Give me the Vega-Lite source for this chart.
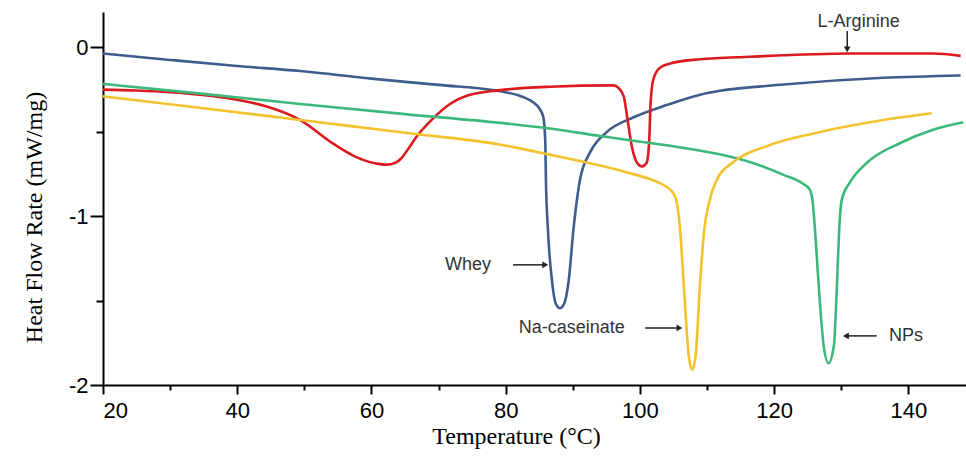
{
  "$schema": "https://vega.github.io/schema/vega-lite/v6.json",
  "width": 863,
  "height": 373,
  "autosize": "none",
  "padding": {"left": 103, "top": 12, "right": 0, "bottom": 72},
  "background": "white",
  "config": {"view": {"stroke": null}},
  "datasets": {
    "curves": [
      {"series": "Whey", "t": 20, "v": -0.036},
      {"series": "Whey", "t": 30, "v": -0.074},
      {"series": "Whey", "t": 40, "v": -0.110},
      {"series": "Whey", "t": 49.4, "v": -0.14},
      {"series": "Whey", "t": 60, "v": -0.185},
      {"series": "Whey", "t": 70, "v": -0.222},
      {"series": "Whey", "t": 79.2, "v": -0.26},
      {"series": "Whey", "t": 82, "v": -0.285},
      {"series": "Whey", "t": 84.1, "v": -0.325},
      {"series": "Whey", "t": 85.0, "v": -0.36},
      {"series": "Whey", "t": 85.6, "v": -0.41},
      {"series": "Whey", "t": 85.9, "v": -0.55},
      {"series": "Whey", "t": 86.0, "v": -0.78},
      {"series": "Whey", "t": 86.3, "v": -1.08},
      {"series": "Whey", "t": 86.9, "v": -1.38},
      {"series": "Whey", "t": 87.5, "v": -1.52},
      {"series": "Whey", "t": 88.1, "v": -1.545},
      {"series": "Whey", "t": 88.7, "v": -1.52},
      {"series": "Whey", "t": 89.4, "v": -1.38},
      {"series": "Whey", "t": 90.1, "v": -1.08},
      {"series": "Whey", "t": 91.1, "v": -0.78},
      {"series": "Whey", "t": 92.6, "v": -0.62},
      {"series": "Whey", "t": 95.1, "v": -0.50},
      {"series": "Whey", "t": 99.0, "v": -0.415},
      {"series": "Whey", "t": 104.1, "v": -0.34},
      {"series": "Whey", "t": 109.0, "v": -0.28},
      {"series": "Whey", "t": 111.5, "v": -0.26},
      {"series": "Whey", "t": 121.4, "v": -0.22},
      {"series": "Whey", "t": 136.3, "v": -0.18},
      {"series": "Whey", "t": 147.8, "v": -0.166},

      {"series": "L-Arginine", "t": 20, "v": -0.25},
      {"series": "L-Arginine", "t": 25, "v": -0.255},
      {"series": "L-Arginine", "t": 30, "v": -0.265},
      {"series": "L-Arginine", "t": 34.5, "v": -0.28},
      {"series": "L-Arginine", "t": 40, "v": -0.31},
      {"series": "L-Arginine", "t": 44.4, "v": -0.35},
      {"series": "L-Arginine", "t": 49.4, "v": -0.43},
      {"series": "L-Arginine", "t": 54.3, "v": -0.57},
      {"series": "L-Arginine", "t": 57.5, "v": -0.645},
      {"series": "L-Arginine", "t": 59.4, "v": -0.675},
      {"series": "L-Arginine", "t": 61.0, "v": -0.69},
      {"series": "L-Arginine", "t": 62.3, "v": -0.695},
      {"series": "L-Arginine", "t": 63.5, "v": -0.685},
      {"series": "L-Arginine", "t": 64.5, "v": -0.655},
      {"series": "L-Arginine", "t": 65.5, "v": -0.60},
      {"series": "L-Arginine", "t": 66.8, "v": -0.525},
      {"series": "L-Arginine", "t": 69.2, "v": -0.42},
      {"series": "L-Arginine", "t": 71.7, "v": -0.335},
      {"series": "L-Arginine", "t": 74.3, "v": -0.285},
      {"series": "L-Arginine", "t": 79.2, "v": -0.253},
      {"series": "L-Arginine", "t": 86.6, "v": -0.233},
      {"series": "L-Arginine", "t": 96.1, "v": -0.225},
      {"series": "L-Arginine", "t": 96.8, "v": -0.24},
      {"series": "L-Arginine", "t": 97.6, "v": -0.29},
      {"series": "L-Arginine", "t": 98.1, "v": -0.41},
      {"series": "L-Arginine", "t": 98.8, "v": -0.585},
      {"series": "L-Arginine", "t": 99.6, "v": -0.685},
      {"series": "L-Arginine", "t": 100.3, "v": -0.705},
      {"series": "L-Arginine", "t": 101.0, "v": -0.685},
      {"series": "L-Arginine", "t": 101.4, "v": -0.546},
      {"series": "L-Arginine", "t": 101.6, "v": -0.33},
      {"series": "L-Arginine", "t": 102.0, "v": -0.19},
      {"series": "L-Arginine", "t": 103.0, "v": -0.12},
      {"series": "L-Arginine", "t": 105.0, "v": -0.09},
      {"series": "L-Arginine", "t": 109.0, "v": -0.07},
      {"series": "L-Arginine", "t": 116.5, "v": -0.055},
      {"series": "L-Arginine", "t": 131.4, "v": -0.036},
      {"series": "L-Arginine", "t": 143.7, "v": -0.036},
      {"series": "L-Arginine", "t": 147.8, "v": -0.05},

      {"series": "NPs", "t": 20, "v": -0.216},
      {"series": "NPs", "t": 35, "v": -0.275},
      {"series": "NPs", "t": 49.4, "v": -0.335},
      {"series": "NPs", "t": 65, "v": -0.395},
      {"series": "NPs", "t": 79.2, "v": -0.447},
      {"series": "NPs", "t": 86.6, "v": -0.48},
      {"series": "NPs", "t": 94.1, "v": -0.525},
      {"series": "NPs", "t": 101.5, "v": -0.566},
      {"series": "NPs", "t": 106.5, "v": -0.595},
      {"series": "NPs", "t": 111.5, "v": -0.63},
      {"series": "NPs", "t": 116.5, "v": -0.68},
      {"series": "NPs", "t": 121.4, "v": -0.755},
      {"series": "NPs", "t": 124.2, "v": -0.805},
      {"series": "NPs", "t": 125.3, "v": -0.84},
      {"series": "NPs", "t": 125.7, "v": -0.9},
      {"series": "NPs", "t": 126.1, "v": -1.08},
      {"series": "NPs", "t": 126.6, "v": -1.38},
      {"series": "NPs", "t": 127.4, "v": -1.77},
      {"series": "NPs", "t": 128.1, "v": -1.871},
      {"series": "NPs", "t": 128.9, "v": -1.77},
      {"series": "NPs", "t": 129.4, "v": -1.38},
      {"series": "NPs", "t": 129.7, "v": -1.08},
      {"series": "NPs", "t": 130.1, "v": -0.90},
      {"series": "NPs", "t": 131.3, "v": -0.80},
      {"series": "NPs", "t": 133.8, "v": -0.685},
      {"series": "NPs", "t": 138.8, "v": -0.566},
      {"series": "NPs", "t": 143.7, "v": -0.487},
      {"series": "NPs", "t": 148.2, "v": -0.443},

      {"series": "Na-caseinate", "t": 20, "v": -0.29},
      {"series": "Na-caseinate", "t": 35, "v": -0.36},
      {"series": "Na-caseinate", "t": 49.4, "v": -0.43},
      {"series": "Na-caseinate", "t": 65, "v": -0.505},
      {"series": "Na-caseinate", "t": 79.2, "v": -0.576},
      {"series": "Na-caseinate", "t": 86.6, "v": -0.635},
      {"series": "Na-caseinate", "t": 94.1, "v": -0.70},
      {"series": "Na-caseinate", "t": 98.5, "v": -0.745},
      {"series": "Na-caseinate", "t": 101.5, "v": -0.78},
      {"series": "Na-caseinate", "t": 103.5, "v": -0.815},
      {"series": "Na-caseinate", "t": 104.7, "v": -0.85},
      {"series": "Na-caseinate", "t": 105.4, "v": -0.9},
      {"series": "Na-caseinate", "t": 106.0, "v": -1.08},
      {"series": "Na-caseinate", "t": 106.5, "v": -1.38},
      {"series": "Na-caseinate", "t": 107.3, "v": -1.83},
      {"series": "Na-caseinate", "t": 107.8, "v": -1.91},
      {"series": "Na-caseinate", "t": 108.3, "v": -1.83},
      {"series": "Na-caseinate", "t": 109.0, "v": -1.38},
      {"series": "Na-caseinate", "t": 109.6, "v": -1.08},
      {"series": "Na-caseinate", "t": 110.3, "v": -0.92},
      {"series": "Na-caseinate", "t": 111.5, "v": -0.78},
      {"series": "Na-caseinate", "t": 113.9, "v": -0.68},
      {"series": "Na-caseinate", "t": 118.9, "v": -0.585},
      {"series": "Na-caseinate", "t": 126.4, "v": -0.505},
      {"series": "Na-caseinate", "t": 136.3, "v": -0.43},
      {"series": "Na-caseinate", "t": 143.5, "v": -0.39}
    ],
    "labels": [
      {"label": "Whey", "t": 74.4, "v": -1.288},
      {"label": "Na-caseinate", "t": 89.85, "v": -1.662},
      {"label": "NPs", "t": 139.65, "v": -1.709},
      {"label": "L-Arginine", "t": 132.6, "v": 0.148}
    ],
    "arrows": [
      {"t": 81.1, "t2": 85.8, "v": -1.288, "v2": -1.288},
      {"t": 100.8, "t2": 105.8, "v": -1.662, "v2": -1.662},
      {"t": 135.3, "t2": 130.8, "v": -1.709, "v2": -1.709},
      {"t": 130.9, "t2": 130.9, "v": 0.097, "v2": -0.005}
    ],
    "heads": [
      {"t": 85.9, "v": -1.288, "dir": "triangle-right"},
      {"t": 105.9, "v": -1.662, "dir": "triangle-right"},
      {"t": 130.7, "v": -1.709, "dir": "triangle-left"},
      {"t": 130.9, "v": -0.012, "dir": "triangle-down"}
    ]
  },
  "layer": [
    {
      "data": {"name": "curves"},
      "mark": {"type": "line", "interpolate": "monotone", "strokeWidth": 2.6, "clip": true},
      "encoding": {
        "x": {
          "field": "t", "type": "quantitative",
          "scale": {"domain": [20, 148.6], "nice": false, "zero": false},
          "axis": {
            "title": "Temperature (°C)",
            "values": [20, 30, 40, 50, 60, 70, 80, 90, 100, 110, 120, 130, 140],
            "labelExpr": "datum.value % 20 === 0 ? datum.label : ''",
            "grid": false,
            "domainColor": "black", "domainWidth": 2,
            "tickColor": "black", "tickWidth": 2,
            "tickSize": {"condition": {"test": "datum.value % 20 === 0", "value": 9}, "value": 5},
            "labelFont": "Liberation Sans", "labelFontSize": 22, "labelColor": "black",
            "labelPadding": 6,
            "titleFont": "Liberation Serif", "titleFontSize": 24, "titleFontWeight": "normal",
            "titleColor": "black", "titlePadding": 3,
            "titleX": 413
          }
        },
        "y": {
          "field": "v", "type": "quantitative",
          "scale": {"domain": [-2, 0.21], "nice": false, "zero": false},
          "axis": {
            "title": "Heat Flow Rate (mW/mg)",
            "values": [-2, -1.5, -1, -0.5, 0],
            "labelExpr": "datum.value % 1 === 0 ? '' + datum.value : ''",
            "grid": false,
            "domainColor": "black", "domainWidth": 2,
            "tickColor": "black", "tickWidth": 2,
            "tickSize": {"condition": {"test": "datum.value % 1 === 0", "value": 13}, "value": 7},
            "labelFont": "Liberation Sans", "labelFontSize": 22, "labelColor": "black",
            "labelPadding": 2,
            "titleFont": "Liberation Serif", "titleFontSize": 24, "titleFontWeight": "normal",
            "titleColor": "black", "titlePadding": 22,
            "titleY": 205
          }
        },
        "color": {
          "field": "series", "type": "nominal",
          "scale": {"domain": ["Whey", "L-Arginine", "NPs", "Na-caseinate"],
                    "range": ["#3e5d8c", "#dc1a1f", "#3cb97a", "#f5c22e"]},
          "legend": null
        }
      }
    },
    {
      "data": {"name": "arrows"},
      "mark": {"type": "rule", "color": "#222", "strokeWidth": 1.5},
      "encoding": {
        "x": {"field": "t", "type": "quantitative"},
        "x2": {"field": "t2"},
        "y": {"field": "v", "type": "quantitative"},
        "y2": {"field": "v2"}
      }
    },
    {
      "data": {"name": "heads"},
      "mark": {"type": "point", "filled": true, "color": "#222", "size": 45, "opacity": 1},
      "encoding": {
        "x": {"field": "t", "type": "quantitative"},
        "y": {"field": "v", "type": "quantitative"},
        "shape": {"field": "dir", "type": "nominal", "scale": null, "legend": null}
      }
    },
    {
      "data": {"name": "labels"},
      "mark": {"type": "text", "font": "Liberation Sans", "fontSize": 18, "color": "#333", "align": "center", "baseline": "middle"},
      "encoding": {
        "x": {"field": "t", "type": "quantitative"},
        "y": {"field": "v", "type": "quantitative"},
        "text": {"field": "label"}
      }
    }
  ]
}
